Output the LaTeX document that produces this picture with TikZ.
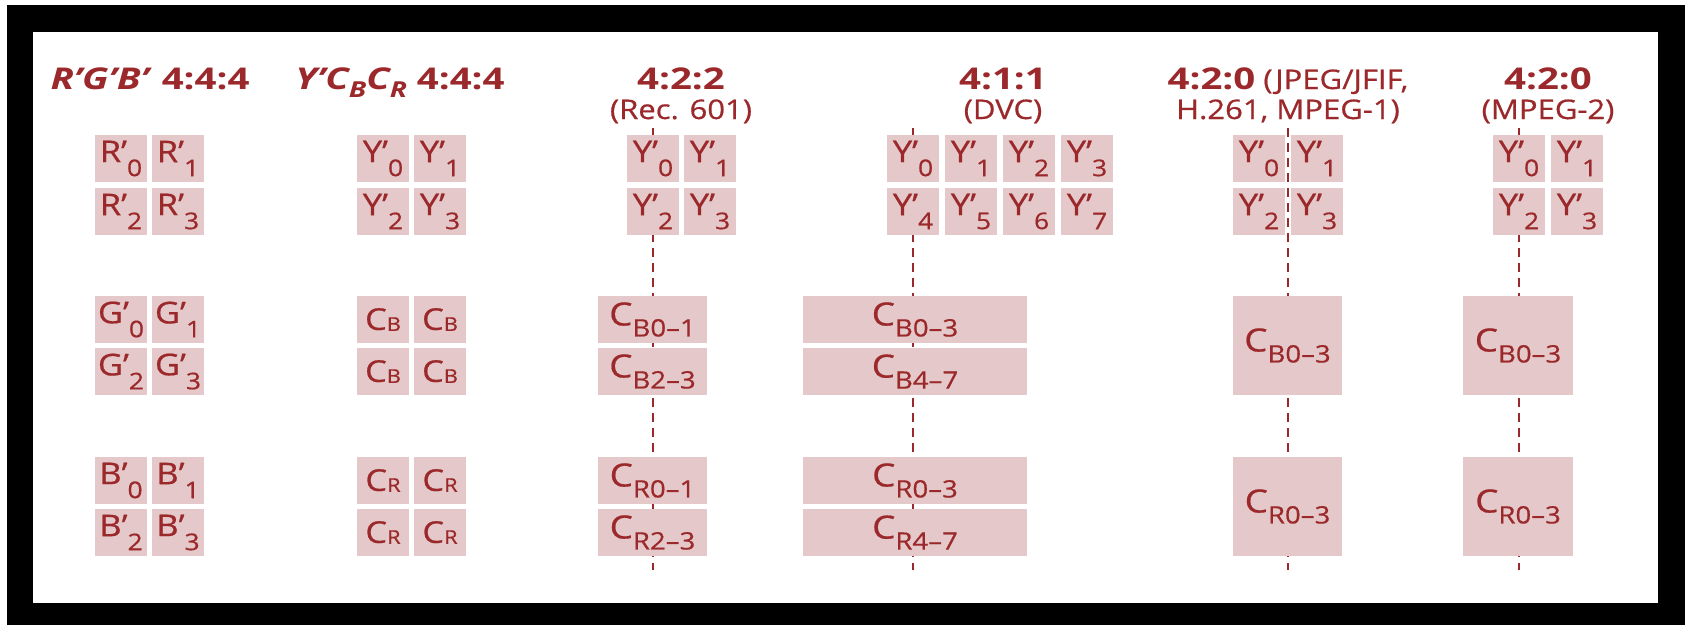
\documentclass[tikz,border=0pt]{standalone}
\usepackage{fontspec}
\setmainfont{Open Sans}[FakeStretch=1.15]
\newfontfamily\ttlfont{Open Sans}[FakeStretch=1.28]
\newfontfamily\lblfont{Open Sans}[FakeStretch=1.15, FakeBold=0.6]
\definecolor{tred}{RGB}{155,40,42}
\definecolor{pfill}{RGB}{229,201,202}
\newcommand\fs[1]{\fontsize{#1}{#1}\selectfont}
\newcommand\pl[2]{#1’\raisebox{-14pt}{\fs{23}#2}}
\newcommand\cl[1]{{\fs{32}C}\raisebox{-11pt}{\fs{24}#1}}
\newcommand\cs[1]{C\raisebox{-1pt}{\fs{19}#1}}
\newcommand\tsub[1]{\raisebox{-8pt}{\fs{22}#1}}
\tikzset{
  pix/.style={fill=pfill, minimum width=52pt, minimum height=47pt, inner sep=0pt, text=tred, font=\lblfont\fs{30}},
  chr/.style={fill=pfill, minimum width=#1, minimum height=47pt, inner sep=0pt, text=tred, font=\lblfont\fs{30}},
  big/.style={fill=pfill, minimum width=#1, minimum height=99pt, inner sep=0pt, text=tred, font=\lblfont\fs{30}},
  ttl/.style={text=tred, font=\ttlfont\fs{30}\bfseries, inner sep=0pt, anchor=base},
  subt/.style={text=tred, font=\lblfont\fs{27}, inner sep=0pt, anchor=base},
  dl/.style={draw=tred, line width=2.2pt, dash pattern=on 9pt off 6pt},
}
\begin{document}
\begin{tikzpicture}[x=1pt,y=-1pt]
\useasboundingbox (0,0) rectangle (1685,625);
\fill[white] (0,0) rectangle (1685,625);
\fill[black] (7,5) rectangle (1685,625);
\fill[white] (33,32) rectangle (1658,603);

% titles
\node[ttl] (h1) at (150,89) {\textit{R’G’B’} 4:4:4};
\node[ttl] (h2) at (400,89) {\textit{Y’C\tsub{B}C\tsub{R}} 4:4:4};
\node[ttl] (h3) at (681,89) {4:2:2};
\node[subt] (s3) at (681,119) {(Rec. 601)};
\node[ttl] (h4) at (1003,89) {4:1:1};
\node[subt] (s4) at (1003,119) {(DVC)};
\node[subt] (h5) at (1288,89) {{\ttlfont\fs{30}\bfseries 4:2:0} (JPEG/JFIF,};
\node[subt] (s5) at (1288,119) {H.261, MPEG-1)};
\node[ttl] (h6) at (1548,89) {4:2:0};
\node[subt] (s6) at (1548,119) {(MPEG-2)};

% dashed siting lines
\coordinate (d1t) at (653,128);  \coordinate (d1b) at (653,570);
\coordinate (d2t) at (913,128);  \coordinate (d2b) at (913,570);
\coordinate (d3t) at (1288,128); \coordinate (d3b) at (1288,570);
\coordinate (d4t) at (1519,128); \coordinate (d4b) at (1519,570);
\draw[dl] (d1t) -- (d1b);
\draw[dl] (d2t) -- (d2b);
\draw[dl] (d3t) -- (d3b);
\draw[dl] (d4t) -- (d4b);

% R'G'B' 4:4:4
\node[pix] (r0) at (121,158.5) {\pl{R}{0}};
\node[pix] (r1) at (178,158.5) {\pl{R}{1}};
\node[pix] (r2) at (121,211.5) {\pl{R}{2}};
\node[pix] (r3) at (178,211.5) {\pl{R}{3}};
\node[pix] (g0) at (121,319.5) {\pl{G}{0}};
\node[pix] (g1) at (178,319.5) {\pl{G}{1}};
\node[pix] (g2) at (121,371.5) {\pl{G}{2}};
\node[pix] (g3) at (178,371.5) {\pl{G}{3}};
\node[pix] (b0) at (121,480.5) {\pl{B}{0}};
\node[pix] (b1) at (178,480.5) {\pl{B}{1}};
\node[pix] (b2) at (121,532.5) {\pl{B}{2}};
\node[pix] (b3) at (178,532.5) {\pl{B}{3}};

% Y'CbCr 4:4:4
\node[pix] (a0) at (383,158.5) {\pl{Y}{0}};
\node[pix] (a1) at (440,158.5) {\pl{Y}{1}};
\node[pix] (a2) at (383,211.5) {\pl{Y}{2}};
\node[pix] (a3) at (440,211.5) {\pl{Y}{3}};
\node[pix] (ab0) at (383,319.5) {\cs{B}};
\node[pix] (ab1) at (440,319.5) {\cs{B}};
\node[pix] (ab2) at (383,371.5) {\cs{B}};
\node[pix] (ab3) at (440,371.5) {\cs{B}};
\node[pix] (ar0) at (383,480.5) {\cs{R}};
\node[pix] (ar1) at (440,480.5) {\cs{R}};
\node[pix] (ar2) at (383,532.5) {\cs{R}};
\node[pix] (ar3) at (440,532.5) {\cs{R}};

% 4:2:2
\node[pix] (c0) at (653,158.5) {\pl{Y}{0}};
\node[pix] (c1) at (710,158.5) {\pl{Y}{1}};
\node[pix] (c2) at (653,211.5) {\pl{Y}{2}};
\node[pix] (c3) at (710,211.5) {\pl{Y}{3}};
\node[chr=109pt] (cb01) at (652.5,319.5) {\cl{B0–1}};
\node[chr=109pt] (cb23) at (652.5,371.5) {\cl{B2–3}};
\node[chr=109pt] (cr01) at (652.5,480.5) {\cl{R0–1}};
\node[chr=109pt] (cr23) at (652.5,532.5) {\cl{R2–3}};

% 4:1:1
\node[pix] (e0) at (913,158.5) {\pl{Y}{0}};
\node[pix] (e1) at (971,158.5) {\pl{Y}{1}};
\node[pix] (e2) at (1029,158.5) {\pl{Y}{2}};
\node[pix] (e3) at (1087,158.5) {\pl{Y}{3}};
\node[pix] (e4) at (913,211.5) {\pl{Y}{4}};
\node[pix] (e5) at (971,211.5) {\pl{Y}{5}};
\node[pix] (e6) at (1029,211.5) {\pl{Y}{6}};
\node[pix] (e7) at (1087,211.5) {\pl{Y}{7}};
\node[chr=224pt] (eb03) at (915,319.5) {\cl{B0–3}};
\node[chr=224pt] (eb47) at (915,371.5) {\cl{B4–7}};
\node[chr=224pt] (er03) at (915,480.5) {\cl{R0–3}};
\node[chr=224pt] (er47) at (915,532.5) {\cl{R4–7}};

% 4:2:0 JPEG
\node[pix] (j0) at (1259,158.5) {\pl{Y}{0}};
\node[pix] (j1) at (1317,158.5) {\pl{Y}{1}};
\node[pix] (j2) at (1259,211.5) {\pl{Y}{2}};
\node[pix] (j3) at (1317,211.5) {\pl{Y}{3}};
\node[big=109pt] (jb) at (1287.5,345.5) {\cl{B0–3}};
\node[big=109pt] (jr) at (1287.5,506.5) {\cl{R0–3}};

% 4:2:0 MPEG-2
\node[pix] (m0) at (1519,158.5) {\pl{Y}{0}};
\node[pix] (m1) at (1577,158.5) {\pl{Y}{1}};
\node[pix] (m2) at (1519,211.5) {\pl{Y}{2}};
\node[pix] (m3) at (1577,211.5) {\pl{Y}{3}};
\node[big=110pt] (mb) at (1518,345.5) {\cl{B0–3}};
\node[big=110pt] (mr) at (1518,506.5) {\cl{R0–3}};
\end{tikzpicture}
\end{document}
